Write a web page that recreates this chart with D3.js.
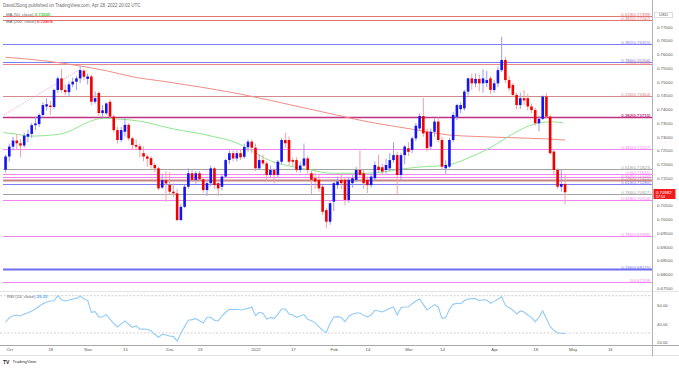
<!DOCTYPE html>
<html><head><meta charset="utf-8">
<script src="https://cdn.jsdelivr.net/npm/d3@7"></script>
<style>
body{margin:0;background:#fff}
svg{display:block}
text{font-family:"Liberation Sans",Arial,sans-serif}
</style>
</head><body>
<svg id="chart" width="679" height="368"></svg>
<script>
// ---------------- DATA ----------------
const dates = [
"2021-09-30","2021-10-01","2021-10-04","2021-10-05","2021-10-06","2021-10-07","2021-10-08","2021-10-11","2021-10-12","2021-10-13","2021-10-14","2021-10-15",
"2021-10-18","2021-10-19","2021-10-20","2021-10-21","2021-10-22","2021-10-25","2021-10-26","2021-10-27","2021-10-28","2021-10-29",
"2021-11-01","2021-11-02","2021-11-03","2021-11-04","2021-11-05","2021-11-08","2021-11-09","2021-11-10","2021-11-11","2021-11-12",
"2021-11-15","2021-11-16","2021-11-17","2021-11-18","2021-11-19","2021-11-22","2021-11-23","2021-11-24","2021-11-25","2021-11-26",
"2021-11-29","2021-11-30","2021-12-01","2021-12-02","2021-12-03","2021-12-06","2021-12-07","2021-12-08","2021-12-09","2021-12-10",
"2021-12-13","2021-12-14","2021-12-15","2021-12-16","2021-12-17","2021-12-20","2021-12-21","2021-12-22","2021-12-23","2021-12-24",
"2021-12-27","2021-12-28","2021-12-29","2021-12-30","2021-12-31","2022-01-03","2022-01-04","2022-01-05","2022-01-06","2022-01-07",
"2022-01-10","2022-01-11","2022-01-12","2022-01-13","2022-01-14","2022-01-17","2022-01-18","2022-01-19","2022-01-20","2022-01-21",
"2022-01-24","2022-01-25","2022-01-26","2022-01-27","2022-01-28","2022-01-31","2022-02-01","2022-02-02","2022-02-03","2022-02-04",
"2022-02-07","2022-02-08","2022-02-09","2022-02-10","2022-02-11","2022-02-14","2022-02-15","2022-02-16","2022-02-17","2022-02-18",
"2022-02-21","2022-02-22","2022-02-23","2022-02-24","2022-02-25","2022-02-28","2022-03-01","2022-03-02","2022-03-03","2022-03-04",
"2022-03-07","2022-03-08","2022-03-09","2022-03-10","2022-03-11","2022-03-14","2022-03-15","2022-03-16","2022-03-17","2022-03-18",
"2022-03-21","2022-03-22","2022-03-23","2022-03-24","2022-03-25","2022-03-28","2022-03-29","2022-03-30","2022-03-31","2022-04-01",
"2022-04-04","2022-04-05","2022-04-06","2022-04-07","2022-04-08","2022-04-11","2022-04-12","2022-04-13","2022-04-14","2022-04-15",
"2022-04-18","2022-04-19","2022-04-20","2022-04-21","2022-04-22","2022-04-25","2022-04-26","2022-04-27","2022-04-28"];

const open = [
0.7180,0.7228,0.7264,0.7286,0.7276,0.7268,0.7300,0.7310,0.7342,0.7346,0.7379,0.7410,
0.7413,0.7408,0.7470,0.7512,0.7470,0.7462,0.7490,0.7500,0.7512,0.7540,
0.7510,0.7519,0.7427,0.7459,0.7386,0.7385,0.7427,0.7373,0.7324,0.7288,
0.7318,0.7343,0.7294,0.7270,0.7265,0.7240,0.7228,0.7222,0.7197,0.7185,
0.7115,0.7142,0.7125,0.7100,0.7094,0.6997,0.7045,0.7118,0.7167,0.7143,
0.7167,0.7145,0.7106,0.7131,0.7185,0.7131,0.7118,0.7155,0.7215,0.7240,
0.7221,0.7240,0.7227,0.7262,0.7282,0.7260,0.7185,0.7215,0.7203,0.7161,
0.7179,0.7161,0.7209,0.7288,0.7288,0.7215,0.7215,0.7179,0.7195,0.7221,
0.7167,0.7149,0.7143,0.7118,0.7033,0.6991,0.7064,0.7124,0.7143,0.7143,
0.7070,0.7131,0.7143,0.7179,0.7167,0.7143,0.7124,0.7149,0.7191,0.7189,
0.7179,0.7185,0.7215,0.7233,0.7161,0.7233,0.7258,0.7252,0.7294,0.7330,
0.7375,0.7318,0.7264,0.7318,0.7355,0.7288,0.7185,0.7191,0.7288,0.7372,
0.7400,0.7403,0.7464,0.7512,0.7494,0.7510,0.7494,0.7495,0.7512,0.7470,
0.7494,0.7542,0.7579,0.7506,0.7488,0.7452,0.7415,0.7440,0.7440,0.7410,
0.7397,0.7349,0.7365,0.7446,0.7373,0.7246,0.7179,0.7118,0.7128];

const high = [
0.7235,0.7275,0.7300,0.7310,0.7290,0.7315,0.7325,0.7350,0.7373,0.7385,0.7425,0.7440,
0.7430,0.7475,0.7520,0.7546,0.7490,0.7500,0.7515,0.7520,0.7556,0.7545,
0.7530,0.7525,0.7465,0.7465,0.7415,0.7425,0.7435,0.7380,0.7335,0.7335,
0.7367,0.7350,0.7300,0.7290,0.7275,0.7265,0.7235,0.7230,0.7205,0.7190,
0.7165,0.7175,0.7170,0.7130,0.7110,0.7055,0.7125,0.7185,0.7180,0.7175,
0.7175,0.7150,0.7140,0.7195,0.7190,0.7140,0.7165,0.7220,0.7250,0.7250,
0.7250,0.7255,0.7275,0.7290,0.7290,0.7275,0.7235,0.7235,0.7210,0.7195,
0.7185,0.7215,0.7295,0.7314,0.7300,0.7225,0.7225,0.7210,0.7275,0.7230,
0.7175,0.7170,0.7160,0.7125,0.7040,0.7065,0.7135,0.7155,0.7165,0.7150,
0.7150,0.7160,0.7190,0.7250,0.7180,0.7155,0.7165,0.7210,0.7235,0.7200,
0.7220,0.7240,0.7280,0.7245,0.7240,0.7270,0.7280,0.7300,0.7350,0.7385,
0.7441,0.7330,0.7330,0.7365,0.7370,0.7300,0.7215,0.7295,0.7390,0.7420,
0.7425,0.7470,0.7515,0.7530,0.7530,0.7525,0.7545,0.7540,0.7520,0.7505,
0.7555,0.7663,0.7590,0.7520,0.7495,0.7460,0.7460,0.7470,0.7455,0.7420,
0.7405,0.7375,0.7450,0.7458,0.7380,0.7250,0.7185,0.7180,0.7160];

const low = [
0.7170,0.7210,0.7250,0.7255,0.7225,0.7260,0.7280,0.7295,0.7324,0.7335,0.7370,0.7395,
0.7379,0.7400,0.7460,0.7460,0.7450,0.7445,0.7480,0.7470,0.7495,0.7505,
0.7490,0.7415,0.7420,0.7375,0.7365,0.7380,0.7365,0.7315,0.7275,0.7280,
0.7300,0.7285,0.7255,0.7250,0.7225,0.7210,0.7190,0.7185,0.7170,0.7105,
0.7110,0.7063,0.7090,0.7080,0.6992,0.6993,0.7040,0.7110,0.7135,0.7130,
0.7135,0.7095,0.7085,0.7120,0.7110,0.7085,0.7105,0.7150,0.7200,0.7210,
0.7210,0.7215,0.7220,0.7245,0.7240,0.7175,0.7180,0.7195,0.7140,0.7150,
0.7130,0.7150,0.7200,0.7260,0.7195,0.7190,0.7170,0.7170,0.7190,0.7165,
0.7090,0.7110,0.7100,0.7015,0.6967,0.6980,0.7030,0.7110,0.7110,0.7050,
0.7060,0.7115,0.7135,0.7150,0.7110,0.7095,0.7115,0.7140,0.7170,0.7160,
0.7165,0.7175,0.7205,0.7088,0.7143,0.7200,0.7230,0.7240,0.7285,0.7320,
0.7300,0.7246,0.7255,0.7300,0.7280,0.7180,0.7165,0.7185,0.7280,0.7360,
0.7385,0.7395,0.7450,0.7470,0.7480,0.7465,0.7460,0.7480,0.7455,0.7460,
0.7480,0.7535,0.7495,0.7465,0.7445,0.7400,0.7400,0.7415,0.7395,0.7385,
0.7340,0.7320,0.7360,0.7365,0.7235,0.7160,0.7110,0.7100,0.7054];

const close = [
0.7228,0.7264,0.7286,0.7276,0.7268,0.7304,0.7310,0.7342,0.7348,0.7379,0.7415,0.7418,
0.7408,0.7470,0.7512,0.7470,0.7462,0.7490,0.7500,0.7512,0.7542,0.7518,
0.7519,0.7427,0.7440,0.7386,0.7396,0.7421,0.7373,0.7324,0.7288,0.7324,
0.7343,0.7294,0.7270,0.7264,0.7252,0.7228,0.7220,0.7197,0.7185,0.7112,
0.7142,0.7130,0.7100,0.7094,0.6997,0.7045,0.7118,0.7167,0.7143,0.7167,
0.7145,0.7106,0.7131,0.7185,0.7124,0.7112,0.7155,0.7215,0.7240,0.7221,
0.7240,0.7225,0.7262,0.7282,0.7260,0.7185,0.7215,0.7203,0.7161,0.7179,
0.7161,0.7209,0.7288,0.7276,0.7209,0.7209,0.7179,0.7195,0.7221,0.7179,
0.7143,0.7137,0.7112,0.7027,0.6991,0.7058,0.7131,0.7137,0.7131,0.7070,
0.7143,0.7149,0.7179,0.7161,0.7131,0.7124,0.7155,0.7197,0.7179,0.7173,
0.7197,0.7215,0.7233,0.7161,0.7233,0.7264,0.7245,0.7294,0.7340,0.7375,
0.7312,0.7258,0.7318,0.7355,0.7288,0.7191,0.7197,0.7288,0.7379,0.7415,
0.7415,0.7464,0.7512,0.7494,0.7510,0.7494,0.7512,0.7506,0.7470,0.7494,
0.7542,0.7579,0.7506,0.7476,0.7452,0.7415,0.7440,0.7432,0.7410,0.7397,
0.7349,0.7365,0.7446,0.7373,0.7240,0.7179,0.7118,0.7128,0.7098];

// RSI(14) values per candle
const rsi = [
41.5,46.5,48.2,49.3,48.2,50.4,51.8,53.6,55.7,58.6,61.4,63.2,
64.3,64.6,70.0,65.7,64.3,65.3,66.4,67.1,69.6,66.8,
65.0,52.2,52.9,47.2,47.2,49.7,44.7,40.4,36.5,39.7,
42.9,39.3,36.1,37.5,34.0,34.3,34.0,32.5,28.6,25.4,
28.6,27.9,26.8,26.1,21.5,29.7,36.8,43.6,44.3,45.4,
43.2,40.7,46.8,46.8,43.6,42.9,48.2,52.2,55.4,55.0,
55.4,54.7,55.4,56.4,57.9,48.6,52.2,51.1,45.0,46.5,
45.7,50.0,55.7,55.7,50.4,49.3,46.8,48.2,49.7,44.7,
43.2,41.1,36.8,32.5,30.8,40.4,47.2,47.5,46.5,42.2,
47.9,50.0,51.4,51.4,48.9,47.2,49.3,54.3,53.6,52.5,
54.3,56.4,57.9,49.3,57.1,57.9,58.2,61.4,64.3,66.4,
60.7,54.7,57.5,60.4,57.9,45.7,46.5,55.4,60.7,61.8,
61.4,64.6,66.4,66.8,66.8,64.6,65.7,65.3,61.8,63.9,
66.4,68.9,59.6,57.1,54.7,50.4,53.6,52.5,49.3,46.5,
42.2,46.8,53.6,45.4,36.8,32.9,30.0,29.7,29.35];

// Moving averages
const sma50Dates = ["2021-09-30","2021-10-06","2021-10-11","2021-10-15","2021-10-22","2021-10-28","2021-11-02","2021-11-08","2021-11-12","2021-11-17","2021-11-24","2021-11-30","2021-12-07","2021-12-13","2021-12-20","2021-12-24","2021-12-29","2022-01-03","2022-01-06","2022-01-11","2022-01-14","2022-01-24","2022-02-01","2022-02-14","2022-02-21","2022-02-25","2022-03-04","2022-03-16","2022-03-24","2022-04-01","2022-04-11","2022-04-15","2022-04-20","2022-04-25","2022-04-28"];
const sma50Values = [0.7315,0.7308,0.7302,0.7304,0.7312,0.7335,0.7355,0.7367,0.7364,0.7361,0.7350,0.7336,0.7322,0.7313,0.7298,0.7285,0.7268,0.7245,0.7222,0.7205,0.7195,0.7180,0.7167,0.7167,0.7172,0.7181,0.7189,0.7197,0.7225,0.7264,0.7314,0.7340,0.7351,0.7354,0.73505];
const sma200Dates = ["2021-09-30","2021-10-15","2021-10-28","2021-11-08","2021-11-17","2021-11-30","2021-12-13","2021-12-24","2022-01-07","2022-01-19","2022-02-02","2022-02-15","2022-02-25","2022-03-08","2022-03-16","2022-03-25","2022-04-04","2022-04-13","2022-04-21","2022-04-28"];
const sma200Values = [0.7589,0.7575,0.7557,0.7540,0.7518,0.7500,0.7481,0.7460,0.7432,0.7408,0.7378,0.7352,0.7334,0.7318,0.7306,0.7301,0.7298,0.7295,0.7292,0.72878];

// Fibonacci levels (labels, prices, and which drawing they belong to)
const fibLabels = ["0.618(0.77399)","0.382(0.77247)","0.382(0.76355)","0.786(0.75706)","0.5(0.75634)","0.236(0.74464)","0.382(0.73715)","0.382(0.72557)","0.618(0.71823)","0.5(0.71631)","0.618(0.71550)","0.236(0.71425)","0.618(0.71280)","0.786(0.70927)","0.618(0.70704)","0.786(0.69386)","0.236(0.68175)","1(0.67709)"];
const fibPrices = [0.77399,0.77247,0.76355,0.75706,0.75634,0.74464,0.73715,0.72557,0.71823,0.71631,0.71550,0.71425,0.71280,0.70927,0.70704,0.69386,0.68175,0.67709];
const fibSet = ["red","red","blue","blue","salmon","brown","magenta","pink","gray","pink","pink","brownThick","blue","gray","pink","pink","blueThick","pink"];

// dotted trend line of the fib tool
const trendDates = ["2021-09-30","2021-10-28"];
const trendPrices = [0.7380,0.7545];

const priceTicks = [0.675,0.680,0.685,0.690,0.695,0.700,0.705,0.710,0.715,0.720,0.725,0.730,0.735,0.740,0.745,0.750,0.755,0.760,0.765,0.770];
const rsiTicks = [20,40,60];
const rsiBands = [70,30];
const timeTickDates = ["2021-10-01","2021-10-18","2021-11-01","2021-11-15","2021-12-01","2021-12-13","2022-01-03","2022-01-17","2022-02-01","2022-02-14","2022-03-01","2022-03-14","2022-04-01","2022-04-18","2022-05-02","2022-05-16"];
const timeTickLabels = ["Oct","18","Nov","15","Dec","13","2022","17","Feb","14","Mar","14","Apr","18","May","16"];

const lastPrice = 0.70982;
const countdown = "57:54";
const ma50Last = "0.73505", ma200Last = "0.72878", rsiLast = "29.35";

// ---------------- STYLE ----------------
const setColor = {red:"#e27474",salmon:"#e88a8a",blue:"#7d7df2",blueThick:"#6f6ff0",brown:"#d38a8a",brownThick:"#c98484",magenta:"#c0307f",pink:"#f284f2",gray:"#a3a3a3"};
const setWidth = {brownThick:2,blueThick:1.8,magenta:1.3};
const FS = 4.3;
const W = 679, plotR = 652.5;

// ---------------- HELPERS ----------------
const base = Date.UTC(2021,8,30);
function tIndex(s){
  const [Y,M,D] = s.split("-").map(Number);
  const t = Date.UTC(Y,M-1,D);
  let n = 0;
  for(let d = base + 864e5; d <= t; d += 864e5){
    const wd = new Date(d).getUTCDay();
    if(wd !== 0 && wd !== 6) n++;
  }
  return n - 1;
}

const svg = d3.select("#chart");
const x = d3.scaleLinear().domain([0,161]).range([9.3,609.83]);
const y = d3.scaleLinear().domain([0.675,0.775]).range([287.95,12.95]);
const yr = d3.scaleLinear().domain([20,60]).range([342.3,305]);

svg.append("rect").attr("width",W).attr("height",368).attr("fill","#fff");

const defs = svg.append("defs");
defs.append("clipPath").attr("id","mainClip").append("rect").attr("x",0).attr("y",0).attr("width",plotR).attr("height",291);
defs.append("clipPath").attr("id","rsiClip").append("rect").attr("x",0).attr("y",292).attr("width",plotR).attr("height",53);

const main = svg.append("g").attr("clip-path","url(#mainClip)");

// fib lines
fibPrices.forEach((p,i)=>{
  const c = setColor[fibSet[i]];
  const yy = Math.round(y(p))+0.5;
  main.append("line").attr("x1",3).attr("x2",plotR).attr("y1",yy).attr("y2",yy)
    .attr("stroke",c).attr("stroke-width",setWidth[fibSet[i]]||1);
  main.append("text").attr("x",650.5).attr("y",yy-1).attr("text-anchor","end")
    .attr("font-size",FS).attr("fill",c).attr("font-weight",fibSet[i]==="magenta"?"bold":null).text(fibLabels[i]);
});

// dotted trend
main.append("line")
  .attr("x1",x(tIndex(trendDates[0]))-1.5).attr("y1",y(trendPrices[0]))
  .attr("x2",x(tIndex(trendDates[1]))).attr("y2",y(trendPrices[1]))
  .attr("stroke","#f09af0").attr("stroke-width",0.9).attr("stroke-dasharray","1.2,1.2");

// moving averages
const maLine = d3.line().curve(d3.curveMonotoneX);
main.append("path").attr("d",maLine(sma200Dates.map((d,i)=>[x(tIndex(d)),y(sma200Values[i])])))
  .attr("fill","none").attr("stroke","#f28c84").attr("stroke-width",1);
main.append("path").attr("d",maLine(sma50Dates.map((d,i)=>[x(tIndex(d))-2,y(sma50Values[i])])))
  .attr("fill","none").attr("stroke","#8fe68f").attr("stroke-width",1);

// candles
const bw = 2.6;
dates.forEach((d,i)=>{
  const cx = x(tIndex(d));
  const up = close[i] >= open[i];
  main.append("line").attr("x1",cx).attr("x2",cx).attr("y1",y(high[i])).attr("y2",y(low[i]))
    .attr("stroke", up ? "#9b9bf4" : "#f4a0a0").attr("stroke-width",1);
  const top = y(Math.max(open[i],close[i])), bot = y(Math.min(open[i],close[i]));
  main.append("rect").attr("x",cx-bw/2).attr("y",top).attr("width",bw).attr("height",Math.max(0.9,bot-top))
    .attr("fill", up ? "#1414f0" : "#f20000");
});

// header texts
svg.append("text").attr("x",3).attr("y",7.4).attr("font-size",4.5).attr("fill","#6a6a6a")
  .text("DavidJSong published on TradingView.com, Apr 28, 2022 20:02 UTC");
const h1 = svg.append("text").attr("x",6).attr("y",16.4).attr("font-size",FS).attr("fill","#666");
h1.append("tspan").text("MA (50, close) ");
h1.append("tspan").attr("fill","#3cd23c").attr("font-weight","bold").text(ma50Last);
const h2 = svg.append("text").attr("x",6).attr("y",23.4).attr("font-size",FS).attr("fill","#666");
h2.append("tspan").text("MA (200, close) ");
h2.append("tspan").attr("fill","#f23c3c").attr("font-weight","bold").text(ma200Last);

// right price axis
const yAxis = d3.axisRight(y).tickValues(priceTicks).tickFormat(d3.format(".5f")).tickSize(0).tickPadding(0);
const gy = svg.append("g").attr("transform","translate(657,0)").call(yAxis);
gy.select(".domain").remove();
gy.selectAll("text").attr("font-size",FS).attr("fill","#555").attr("font-family","Liberation Sans, Arial, sans-serif");

// USD box
svg.append("rect").attr("x",654.5).attr("y",12.3).attr("width",18).attr("height",5.4).attr("fill","#fff").attr("stroke","#c8c8c8").attr("stroke-width",0.6);
svg.append("text").attr("x",663.5).attr("y",16.4).attr("text-anchor","middle").attr("font-size",FS).attr("fill","#555").text("USD");

// last price box
const ly = y(lastPrice);
svg.append("rect").attr("x",653.5).attr("y",ly-3.2).attr("width",22).attr("height",10).attr("fill","#f21c1c");
svg.append("text").attr("x",656).attr("y",ly+1.4).attr("font-size",FS).attr("fill","#fff").text(d3.format(".5f")(lastPrice));
svg.append("text").attr("x",656).attr("y",ly+5.6).attr("font-size",FS*0.85).attr("fill","#fff").text(countdown);

// pane separators & axes
svg.append("line").attr("x1",0).attr("x2",W).attr("y1",291.5).attr("y2",291.5).attr("stroke","#e6e6e6").attr("stroke-width",1);
svg.append("line").attr("x1",0).attr("x2",W).attr("y1",345.5).attr("y2",345.5).attr("stroke","#a8a8a8").attr("stroke-width",1);
svg.append("line").attr("x1",0).attr("x2",W).attr("y1",355.5).attr("y2",355.5).attr("stroke","#e4e4e4").attr("stroke-width",1);
svg.append("line").attr("x1",plotR).attr("x2",plotR).attr("y1",0).attr("y2",356).attr("stroke","#b4b4b4").attr("stroke-width",1);

// RSI pane
const rp = svg.append("g").attr("clip-path","url(#rsiClip)");
rsiBands.forEach(v=>{
  rp.append("line").attr("x1",0).attr("x2",plotR).attr("y1",yr(v)).attr("y2",yr(v))
    .attr("stroke","#bdbdbd").attr("stroke-width",0.7).attr("stroke-dasharray","2,1.6");
});
rp.append("path").attr("d",d3.line()(dates.map((d,i)=>[x(tIndex(d)),yr(rsi[i])])))
  .attr("fill","none").attr("stroke","#92cbf7").attr("stroke-width",1.1);
const r1 = svg.append("text").attr("x",7).attr("y",298.1).attr("font-size",FS).attr("fill","#666");
r1.append("tspan").text("RSI (14, close) ");
r1.append("tspan").attr("fill","#5aaef2").attr("font-weight","bold").text(rsiLast);
const rAxis = d3.axisRight(yr).tickValues(rsiTicks).tickFormat(d3.format(".2f")).tickSize(0).tickPadding(0);
const gr = svg.append("g").attr("transform","translate(657,0)").call(rAxis);
gr.select(".domain").remove();
gr.selectAll("text").attr("font-size",FS).attr("fill","#555").attr("font-family","Liberation Sans, Arial, sans-serif");

// time axis
const xAxis = d3.axisBottom(x).tickValues(timeTickDates.map(tIndex)).tickFormat((d,i)=>timeTickLabels[i]).tickSize(0).tickPadding(0);
const gx = svg.append("g").attr("transform","translate(0,348)").call(xAxis);
gx.select(".domain").remove();
gx.selectAll("text").attr("font-size",FS).attr("fill","#555").attr("font-family","Liberation Sans, Arial, sans-serif");

// TradingView mark
svg.append("text").attr("x",3).attr("y",363.6).attr("font-size",5).attr("font-weight","bold").attr("fill","#222").text("TV");
svg.append("text").attr("x",12.5).attr("y",363.4).attr("font-size",FS).attr("fill","#333").text("TradingView");
</script>
</body></html>
